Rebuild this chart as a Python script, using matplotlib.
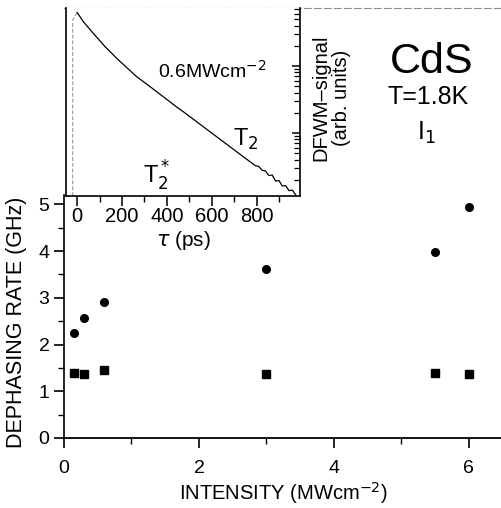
import numpy as np
import matplotlib.pyplot as plt
from matplotlib.ticker import MultipleLocator, LogLocator, NullFormatter

plt.rcParams['font.family'] = ['Liberation Sans', 'DejaVu Sans']

# main panel: dephasing rate vs intensity
intensity = [0.15, 0.3, 0.6, 3.0, 5.5, 6.0]
rate_circ = [2.24, 2.57, 2.92, 3.62, 3.98, 4.95]
rate_sq = [1.39, 1.36, 1.46, 1.36, 1.39, 1.37]

# inset: DFWM trace
tau = [0, 27, 71, 124, 176, 265, 325, 451, 473, 622, 771, 795, 810, 825,
       840, 855, 870, 885, 900, 915, 930, 945, 960, 975]
sig = [62.5, 45.8, 30.8, 19.4, 13.0, 6.92, 4.91, 2.34, 2.08, 0.88, 0.373,
       0.325, 0.318, 0.278, 0.272, 0.232, 0.236, 0.192, 0.196, 0.162, 0.164,
       0.138, 0.141, 0.119]
rise_tau = [-20, -20, 0]
rise_sig = [0.115, 48.6, 62.5]

fig = plt.figure(figsize=(5.02, 5.08), dpi=100)
W, H = 502., 508.
ax = fig.add_axes([64/W, (H-438)/H, (W-64)/W, (438-8)/H])
ax.plot(intensity, rate_circ, 'o', color='black', ms=5.5)
ax.plot(intensity, rate_sq, 's', color='black', ms=5.5)
ax.set_xlim(0, 6.49)
ax.set_ylim(0, 9.2)
ax.set_xticks([0, 2, 4, 6])
ax.xaxis.set_minor_locator(MultipleLocator(1))
ax.set_yticks([0, 1, 2, 3, 4, 5])
ax.set_yticks(np.arange(0.5, 5, 1), minor=True)
ax.tick_params(which='major', direction='out', length=7, width=1.2, labelsize=14)
ax.tick_params(axis='x', which='major', pad=9)
ax.tick_params(which='minor', direction='out', length=4, width=1.0)
ax.spines['right'].set_visible(False)
ax.spines['top'].set_color('0.55')
ax.spines['top'].set_linestyle((0, (6, 3)))
ax.spines['top'].set_linewidth(0.8)
ax.spines['left'].set_linewidth(1.2)
ax.spines['left'].set_bounds(0, 5.2)
ax.spines['bottom'].set_linewidth(1.3)
ax.set_xlabel('INTENSITY (MWcm$^{-2}$)', fontsize=14.5)
ax.xaxis.set_label_coords(0.5, -0.097)
ax.set_ylabel('DEPHASING RATE (GHz)', fontsize=15.5)
ax.yaxis.set_label_coords(-0.085, 0.268)

fig.text(432/W, 1-62/H, 'CdS', fontsize=31, ha='center', va='center')
fig.text(428/W, 1-97/H, 'T=1.8K', fontsize=18, ha='center', va='center')
fig.text(426/W, 1-133/H, 'I$_1$', fontsize=18, ha='center', va='center')
fig.text(331/W, 1-98/H, 'DFWM\u2013signal\n(arb. units)', fontsize=14.5,
         ha='center', va='center', rotation=90, linespacing=1.1)

ins = fig.add_axes([66/W, (H-196)/H, (300-66)/W, (196-8)/H])
ins.set_yscale('log')
ins.plot(rise_tau, rise_sig, color='0.55', lw=0.7, ls=(0, (4, 2)))
ins.plot(tau, sig, color='black', lw=0.9)
ins.set_xlim(-50, 994)
ins.set_ylim(0.115, 73)
ins.set_xticks([0, 200, 400, 600, 800])
ins.xaxis.set_minor_locator(MultipleLocator(100))
ins.tick_params(axis='x', which='major', direction='out', length=7, width=1.1,
                labelsize=14.5, pad=1)
ins.tick_params(axis='x', which='minor', direction='out', length=4, width=1.0)
ins.yaxis.tick_right()
ins.yaxis.set_major_locator(LogLocator(base=10))
ins.yaxis.set_minor_locator(LogLocator(base=10, subs=np.arange(2, 10)))
ins.yaxis.set_major_formatter(NullFormatter())
ins.yaxis.set_minor_formatter(NullFormatter())
ins.tick_params(axis='y', which='major', direction='in', length=6, width=1.1)
ins.tick_params(axis='y', which='minor', direction='in', length=4, width=0.9)
ins.spines['top'].set_visible(False)
for s in ['left', 'bottom', 'right']:
    ins.spines[s].set_linewidth(1.2)
ins.set_xlabel(r'$\tau$ (ps)', fontsize=15, labelpad=2)
ins.text(92/234, 1-63/188, '0.6MWcm$^{-2}$', transform=ins.transAxes,
         fontsize=14, ha='left', va='center')
ins.text(180/234, 1-131/188, 'T$_2$', transform=ins.transAxes, fontsize=17,
         ha='center', va='center')
ins.text(91/234, 1-168/188, 'T$_2^*$', transform=ins.transAxes, fontsize=17,
         ha='center', va='center')

fig.savefig('out.png', dpi=100)
